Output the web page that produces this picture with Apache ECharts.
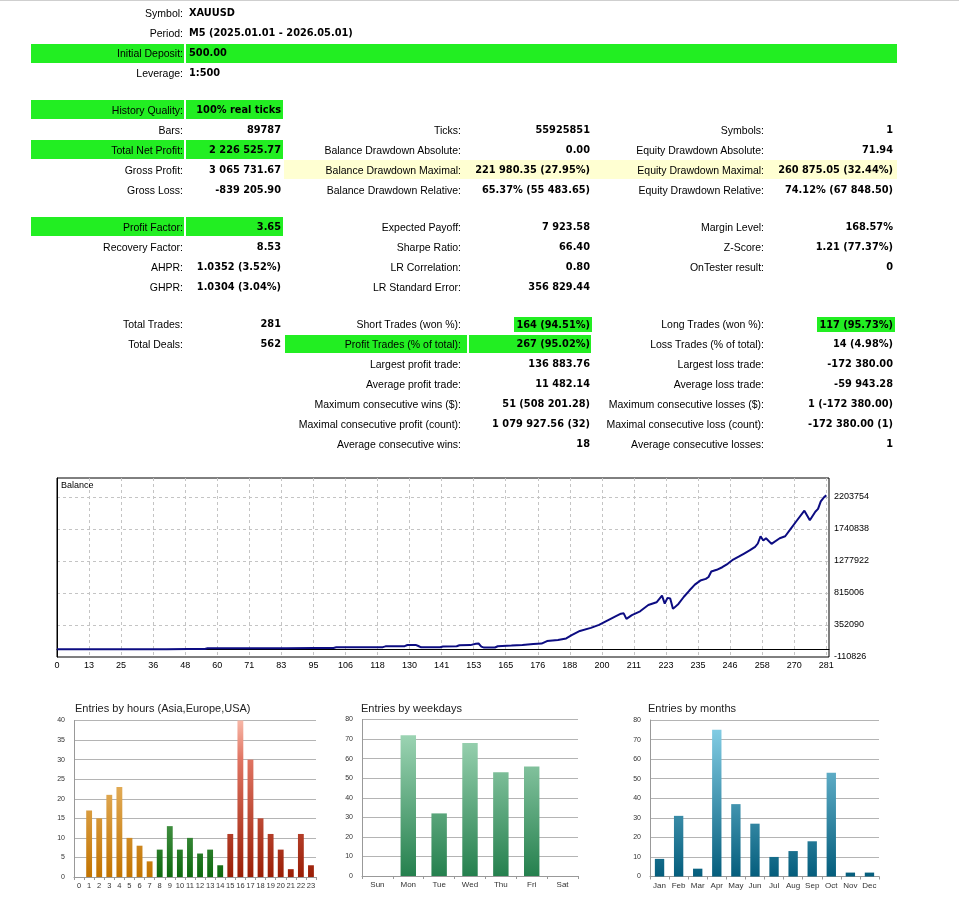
<!DOCTYPE html>
<html>
<head>
<meta charset="utf-8">
<script src="https://cdn.jsdelivr.net/npm/echarts@6/dist/echarts.min.js"></script>
<style>
html,body{margin:0;padding:0;background:#fff;width:959px;height:898px;overflow:hidden;}
#chart{position:absolute;left:0;top:0;width:959px;height:898px;}
#report{position:absolute;left:0;top:0;width:959px;height:460px;z-index:2;}
.t{position:absolute;white-space:nowrap;color:#000;line-height:14px;height:14px;}
.lab{font-family:"Liberation Sans",Arial,sans-serif;font-size:10.5px;}
.val{font-family:"DejaVu Sans",sans-serif;font-weight:bold;font-size:9.8px;}
.box{position:absolute;}
.g{background:#22ee22;}
.y{background:#ffffd2;}
#topline{position:absolute;left:0;top:0;width:959px;height:1px;background:#cfcfcf;}
</style>
</head>
<body>
<div id="chart"></div>
<div id="report"><div id="topline"></div></div>
<script>
// ---------------- report text ----------------
const headerLabels = ["Symbol:", "Period:", "Initial Deposit:", "Leverage:"];
const headerValues = ["XAUUSD", "M5 (2025.01.01 - 2026.05.01)", "500.00", "1:500"];

const block1 = [
  ["History Quality:", "100% real ticks", "", "", "", ""],
  ["Bars:", "89787", "Ticks:", "55925851", "Symbols:", "1"],
  ["Total Net Profit:", "2 226 525.77", "Balance Drawdown Absolute:", "0.00", "Equity Drawdown Absolute:", "71.94"],
  ["Gross Profit:", "3 065 731.67", "Balance Drawdown Maximal:", "221 980.35 (27.95%)", "Equity Drawdown Maximal:", "260 875.05 (32.44%)"],
  ["Gross Loss:", "-839 205.90", "Balance Drawdown Relative:", "65.37% (55 483.65)", "Equity Drawdown Relative:", "74.12% (67 848.50)"]
];
const block2 = [
  ["Profit Factor:", "3.65", "Expected Payoff:", "7 923.58", "Margin Level:", "168.57%"],
  ["Recovery Factor:", "8.53", "Sharpe Ratio:", "66.40", "Z-Score:", "1.21 (77.37%)"],
  ["AHPR:", "1.0352 (3.52%)", "LR Correlation:", "0.80", "OnTester result:", "0"],
  ["GHPR:", "1.0304 (3.04%)", "LR Standard Error:", "356 829.44", "", ""]
];
const block3 = [
  ["Total Trades:", "281", "Short Trades (won %):", "164 (94.51%)", "Long Trades (won %):", "117 (95.73%)"],
  ["Total Deals:", "562", "Profit Trades (% of total):", "267 (95.02%)", "Loss Trades (% of total):", "14 (4.98%)"],
  ["", "", "Largest profit trade:", "136 883.76", "Largest loss trade:", "-172 380.00"],
  ["", "", "Average profit trade:", "11 482.14", "Average loss trade:", "-59 943.28"],
  ["", "", "Maximum consecutive wins ($):", "51 (508 201.28)", "Maximum consecutive losses ($):", "1 (-172 380.00)"],
  ["", "", "Maximal consecutive profit (count):", "1 079 927.56 (32)", "Maximal consecutive loss (count):", "-172 380.00 (1)"],
  ["", "", "Average consecutive wins:", "18", "Average consecutive losses:", "1"]
];

// ---------------- chart data ----------------
const balanceIdx = [0,8,16,24,32,40,48,54,55,64,74,84,94,101,102,110,119,120,127,128,131,132,133,140,141,146,147,151,153,154,155,156,160,161,166,170,174,177,179,183,186,188,191,195,198,201,204,206,207,208,210,213,216,219,221,222,223,224,225,227,229,231,233,235,237,238,239,241,243,245,247,249,251,253,255,256,257,258,259,261,264,266,268,270,273,275,277,278,279,280,281];
const balanceVal = [500,800,1200,1700,2300,3000,3900,4800,15000,15500,16200,17000,18200,19500,29000,30000,31500,43000,45500,62000,64000,48000,29500,30500,42000,44000,59000,61000,80000,84000,40000,25000,27000,45000,54000,64000,78000,83000,120000,136000,158000,205000,266000,310000,353000,415000,475000,515000,520000,440000,495000,550000,640000,680000,777000,660000,744000,735000,585000,657000,760000,850000,935000,994000,1018000,1045000,1125000,1150000,1187000,1236000,1298000,1340000,1385000,1430000,1480000,1530000,1635000,1573000,1606000,1525000,1606000,1635000,1742000,1848000,2005000,1865000,1990000,2030000,2140000,2190000,2227026];
const balanceXTicks = ["0","13","25","36","48","60","71","83","95","106","118","130","141","153","165","176","188","200","211","223","235","246","258","270","281"];
const balanceYTicks = [-110826, 352090, 815006, 1277922, 1740838, 2203754];

const hourLabels = ["0","1","2","3","4","5","6","7","8","9","10","11","12","13","14","15","16","17","18","19","20","21","22","23"];
const hourValues = [0,17,15,21,23,10,8,4,7,13,7,10,6,7,3,11,40,30,15,11,7,2,11,3];
const weekdayLabels = ["Sun","Mon","Tue","Wed","Thu","Fri","Sat"];
const weekdayValues = [0,72,32,68,53,56,0];
const monthLabels = ["Jan","Feb","Mar","Apr","May","Jun","Jul","Aug","Sep","Oct","Nov","Dec"];
const monthValues = [9,31,4,75,37,27,10,13,18,53,2,2];

// ---------------- report layout ----------------
const rep = document.getElementById('report');
function box(x1, x2, yc, h, cls) {
  const d = document.createElement('div');
  d.className = 'box ' + cls;
  d.style.left = x1 + 'px'; d.style.width = (x2 - x1) + 'px';
  d.style.top = (yc - h / 2) + 'px'; d.style.height = h + 'px';
  rep.appendChild(d);
}
function txt(s, x, yc, align, cls, bg) {
  if (!s) return;
  const d = document.createElement('div');
  d.className = 't ' + cls;
  d.textContent = s;
  d.style.top = (yc - 7) + 'px';
  if (align === 'r') d.style.right = (959 - x) + 'px'; else d.style.left = x + 'px';
  if (bg) { d.style.background = bg; d.style.padding = '0 2px'; d.style.marginRight = '-2px'; d.style.height = '15px'; d.style.lineHeight='15px'; d.style.top=(yc-7.5)+'px'; }
  rep.appendChild(d);
}
const C1L = 183, C1V = 281, C2L = 461, C2V = 590, C3L = 764, C3V = 893;
const GREEN = '#22ee22';

// highlight boxes
box(31, 184, 53, 19, 'g'); box(186, 897, 53, 19, 'g');
box(31, 184, 109.5, 19, 'g'); box(186, 283, 109.5, 19, 'g');
box(31, 184, 149.5, 19, 'g'); box(186, 283, 149.5, 19, 'g');
box(284, 897, 169.5, 19, 'y');
box(31, 184, 226.5, 19, 'g'); box(186, 283, 226.5, 19, 'g');
box(285, 467, 344, 18, 'g'); box(469, 591, 344, 18, 'g');

const headerY = [13.3, 33.3, 53, 73.3];
headerLabels.forEach((l, i) => { txt(l, C1L, headerY[i], 'r', 'lab'); txt(headerValues[i], 189, headerY[i], 'l', 'val'); });

function block(rows, y0) {
  rows.forEach((r, i) => {
    const y = y0 + i * 20;
    txt(r[0], C1L, y, 'r', 'lab');
    txt(r[1], C1V, y, 'r', 'val');
    txt(r[2], C2L, y, 'r', 'lab');
    txt(r[3], C2V, y, 'r', 'val', (rows === block3 && i === 0) ? GREEN : null);
    txt(r[4], C3L, y, 'r', 'lab');
    txt(r[5], C3V, y, 'r', 'val', (rows === block3 && i === 0) ? GREEN : null);
  });
}
block(block1, 110);
block(block2, 227);
block(block3, 324);

// ---------------- charts ----------------
const chart = echarts.init(document.getElementById('chart'), null, {renderer: 'canvas'});
const FF = '"Liberation Sans", Arial, sans-serif';
const xStep = 281 / 24;
const yStep = balanceYTicks[1] - balanceYTicks[0];

function grad(top, bottom, stops) {
  return {type: 'linear', x: 0, y: top, x2: 0, y2: bottom, global: true,
    colorStops: stops.map(s => ({offset: s[0], color: s[1]}))};
}
const asiaGrad = grad(720, 877, [[0, '#f8d394'], [1, '#c27300']]);
const euGrad = grad(720, 877, [[0, '#a6dba6'], [1, '#0e680e']]);
const usaGrad = grad(720, 877, [[0, '#f8b8a8'], [0.25, '#e07462'], [1, '#9a1e06']]);
const wdGrad = grad(719, 876, [[0, '#a9ddbe'], [1, '#25804e']]);
const mGrad = grad(720, 877, [[0, '#8ad3ea'], [1, '#045d7c']]);

function hourColor(i) { return i <= 7 ? asiaGrad : (i <= 14 ? euGrad : usaGrad); }

const barX = (gi, labels, fs) => ({
  type: 'category', gridIndex: gi, data: labels,
  axisLine: {show: true, lineStyle: {color: '#999'}},
  axisTick: {show: true, length: 3, lineStyle: {color: '#999'}},
  axisLabel: {interval: 0, fontSize: fs, color: '#333', fontFamily: FF, margin: 5}
});
const barY = (gi, max, step) => ({
  type: 'value', gridIndex: gi, min: 0, max: max, interval: step,
  axisLine: {show: true, lineStyle: {color: '#999'}},
  axisTick: {show: false},
  splitLine: {show: true, lineStyle: {color: '#b4b4b4', width: 1}},
  axisLabel: {fontSize: 7, color: '#333', fontFamily: FF, margin: 9}
});
const titleStyle = {fontSize: 11, fontWeight: 'normal', color: '#222', fontFamily: FF};

const option = {
  animation: false,
  backgroundColor: 'transparent',
  title: [
    {text: 'Balance', left: 61, top: 481, padding: 0, textStyle: {fontSize: 9, fontWeight: 'normal', color: '#000', fontFamily: FF}},
    {text: 'Entries by hours (Asia,Europe,USA)', left: 75, top: 703, padding: 0, textStyle: titleStyle},
    {text: 'Entries by weekdays', left: 361, top: 703, padding: 0, textStyle: titleStyle},
    {text: 'Entries by months', left: 648, top: 703, padding: 0, textStyle: titleStyle}
  ],
  grid: [
    {left: 57, top: 478, width: 772, height: 179, show: true, borderColor: '#000', borderWidth: 1, backgroundColor: '#fff', containLabel: false},
    {left: 74, top: 720.5, width: 242, height: 156.5},
    {left: 362, top: 719.5, width: 216, height: 156.5},
    {left: 650, top: 720, width: 229, height: 156.5}
  ],
  xAxis: [
    {type: 'value', gridIndex: 0, min: 0, max: 282, interval: xStep,
      axisLine: {show: true, lineStyle: {color: '#000'}}, axisTick: {show: false},
      splitLine: {show: true, showMinLine: false, showMaxLine: false, lineStyle: {color: '#c4c4c4', type: [3, 3]}},
      axisLabel: {fontSize: 9, color: '#000', fontFamily: FF, margin: 4, showMaxLabel: false,
        formatter: v => { const k = Math.round(v / xStep); return (Math.abs(v - k * xStep) < 0.01 && k < balanceXTicks.length) ? balanceXTicks[k] : ''; }}},
    barX(1, hourLabels, 7.5),
    barX(2, weekdayLabels, 8),
    barX(3, monthLabels, 8)
  ],
  yAxis: [
    {type: 'value', gridIndex: 0, position: 'right', min: balanceYTicks[0], max: balanceYTicks[5] + yStep * 0.59, interval: yStep,
      axisLine: {show: true, lineStyle: {color: '#000'}}, axisTick: {show: false},
      splitLine: {show: true, showMinLine: false, showMaxLine: false, lineStyle: {color: '#c4c4c4', type: [3, 3]}},
      axisLabel: {fontSize: 9, color: '#000', fontFamily: FF, margin: 5, showMaxLabel: false,
        formatter: v => (balanceYTicks.some(t => Math.abs(t - v) < 1) ? String(Math.round(v)) : '')}},
    barY(1, 40, 5),
    barY(2, 80, 10),
    barY(3, 80, 10)
  ],
  series: [
    {type: 'line', xAxisIndex: 0, yAxisIndex: 0, symbol: 'none', smooth: false,
      lineStyle: {color: '#0c0c82', width: 2},
      data: balanceIdx.map((x, i) => [x, balanceVal[i]])},
    {type: 'bar', xAxisIndex: 1, yAxisIndex: 1, barWidth: '58%',
      data: hourValues.map((v, i) => ({value: v, itemStyle: {color: hourColor(i)}}))},
    {type: 'bar', xAxisIndex: 2, yAxisIndex: 2, barWidth: '50%',
      itemStyle: {color: wdGrad}, data: weekdayValues},
    {type: 'bar', xAxisIndex: 3, yAxisIndex: 3, barWidth: '49%',
      itemStyle: {color: mGrad}, data: monthValues}
  ]
};
chart.setOption(option);
</script>
</body>
</html>
